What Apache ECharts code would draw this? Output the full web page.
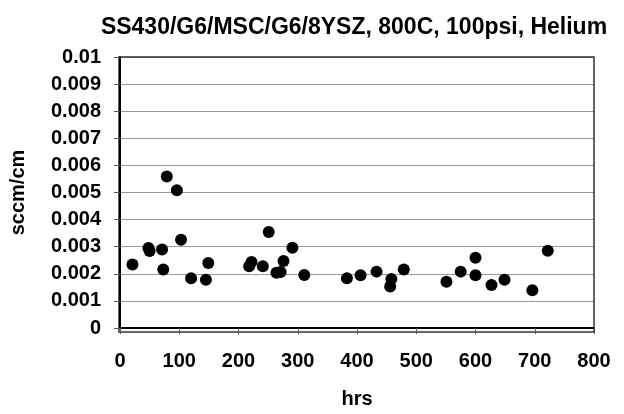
<!DOCTYPE html>
<html>
<head>
<meta charset="utf-8">
<script src="https://cdn.jsdelivr.net/npm/echarts@6/dist/echarts.min.js"></script>
<style>
  html, body { margin: 0; padding: 0; background: #fff; }
  #main { width: 624px; height: 414px; }
</style>
</head>
<body>
<div id="main"></div>
<script>
// 数据
var hrs = [21, 48, 50, 71, 73, 79, 96, 103, 120, 145, 149, 218, 222, 241, 251, 264, 271, 276, 291, 311,
  383, 406, 433, 458, 456, 479, 551, 575, 600, 600, 627, 649, 696, 722];
var flow = [0.00234, 0.00295, 0.00284, 0.00290, 0.00216, 0.00559, 0.00508, 0.00326, 0.00184, 0.00178, 0.00240,
  0.00228, 0.00244, 0.00228, 0.00354, 0.00204, 0.00207, 0.00247, 0.00296, 0.00196,
  0.00184, 0.00195, 0.00208, 0.00181, 0.00153, 0.00216, 0.00171, 0.00208, 0.00259, 0.00195,
  0.00159, 0.00178, 0.00139, 0.00285];
var titleText = 'SS430/G6/MSC/G6/8YSZ, 800C, 100psi, Helium';

var points = [];
for (var i = 0; i < hrs.length; i++) {
  points.push([hrs[i], flow[i]]);
}

var chart = echarts.init(document.getElementById('main'));
var font = 'Liberation Sans, Arial, sans-serif';
var option = {
  animation: false,
  title: {
    text: titleText,
    left: 349,
    top: 11,
    textAlign: 'center',
    textStyle: { fontFamily: font, fontWeight: 'bold', fontSize: 23, color: '#000' }
  },
  grid: { left: 119, right: 30, top: 57, bottom: 82 },
  xAxis: {
    type: 'value',
    min: 0,
    max: 800,
    interval: 100,
    name: 'hrs',
    nameLocation: 'middle',
    nameGap: 61,
    nameTextStyle: { fontFamily: font, fontWeight: 'bold', fontSize: 20, color: '#000' },
    axisLine: { onZero: false, lineStyle: { color: '#000', width: 2 } },
    axisTick: { show: true, inside: false, length: 6, lineStyle: { color: '#555' } },
    axisLabel: { fontFamily: font, fontWeight: 'bold', fontSize: 20, color: '#000', margin: 23 },
    splitLine: { show: false }
  },
  yAxis: {
    type: 'value',
    min: 0,
    max: 0.01,
    interval: 0.001,
    name: 'sccm/cm',
    nameLocation: 'middle',
    nameGap: 92,
    nameRotate: 90,
    nameTextStyle: { fontFamily: font, fontWeight: 'bold', fontSize: 20, color: '#000' },
    axisLine: { show: true, lineStyle: { color: '#000', width: 2 } },
    axisTick: { show: true, inside: false, length: 6, lineStyle: { color: '#555' } },
    axisLabel: {
      fontFamily: font, fontWeight: 'bold', fontSize: 20, color: '#000', margin: 19,
      formatter: function (v) { return String(Math.round(v * 1000) / 1000); }
    },
    splitLine: { show: true, lineStyle: { color: '#999', width: 1 } }
  },
  series: [{
    type: 'scatter',
    symbol: 'circle',
    symbolSize: 12,
    itemStyle: { color: '#000', opacity: 1 },
    data: points
  }]
};
chart.setOption(option);

// 右侧和顶部边框
chart.setOption({
  graphic: [{
    type: 'rect',
    shape: { x: 119, y: 57, width: 475, height: 275 },
    style: { fill: 'none', stroke: '#333', lineWidth: 1.5 },
    silent: true
  }]
});
</script>
</body>
</html>
